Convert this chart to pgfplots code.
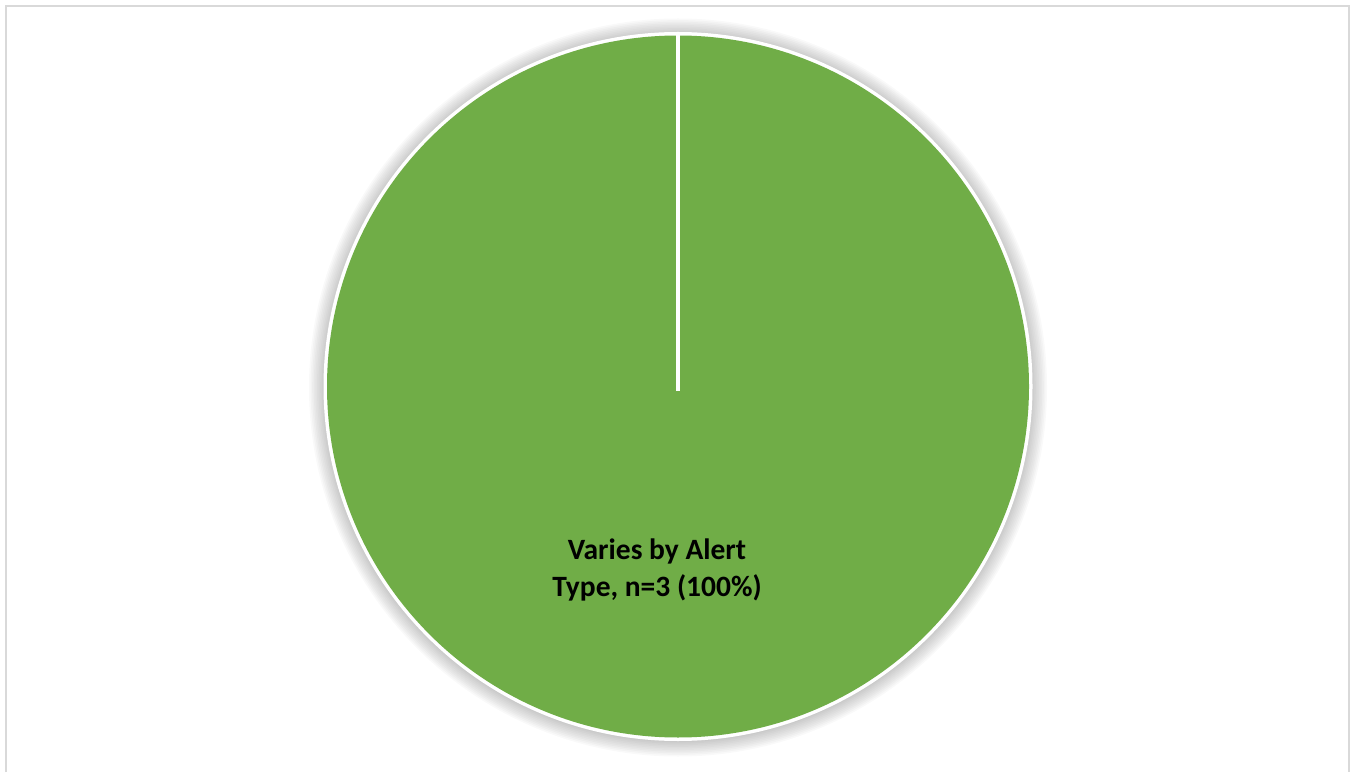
\documentclass[border=0pt]{standalone}
\usepackage{pgfplots}
\usepackage{pgfplotstable}
\pgfplotsset{compat=1.18}
\usepackage{fontspec}
\setmainfont{Carlito}
\definecolor{slicegreen}{HTML}{70AD47}
\definecolor{framegray}{HTML}{D9D9D9}
\pgfplotstableread{
label n
{Varies by Alert Type} 3
}\piedata
\begin{document}
\begin{tikzpicture}
\pgfplotstablegetelem{0}{n}\of\piedata
\let\nA\pgfplotsretval
\pgfmathsetmacro{\total}{\nA}
\pgfmathsetmacro{\sweep}{360*\nA/\total}
\pgfmathtruncatemacro{\pct}{100*\nA/\total}
\begin{axis}[at={(0,0)}, anchor=south west, scale only axis, width=1351pt, height=772pt,
  xmin=0, xmax=1351, ymin=0, ymax=772, hide axis]
% frame
\draw[framegray, line width=2pt] (axis cs:6,0) -- (axis cs:6,766) -- (axis cs:1349,766) -- (axis cs:1349,0);
% soft shadow
\pgfplotsinvokeforeach{1,...,10}{
  \fill[black, opacity=0.022] (axis cs:678,384.5) circle[radius={353pt+1.6pt*#1}];
}
% white border
\fill[white] (axis cs:678,385.5) circle[radius=354.5pt];
% slice
\fill[slicegreen] (axis cs:678,385.5) -- ++(90:351pt) arc[start angle=90, delta angle=-\sweep, radius=351pt] -- cycle;
\draw[white, line width=4pt] (axis cs:678,381) -- (axis cs:678,740);
\node[align=center, font=\bfseries\fontsize{29.5}{37}\selectfont, text=black]
  at (axis cs:657,202) {Varies by Alert\\Type, n=\nA{} (\pct\%)};
\end{axis}
\pgfresetboundingbox
\useasboundingbox (0,0) rectangle (1351pt,772pt);
\end{tikzpicture}
\end{document}
